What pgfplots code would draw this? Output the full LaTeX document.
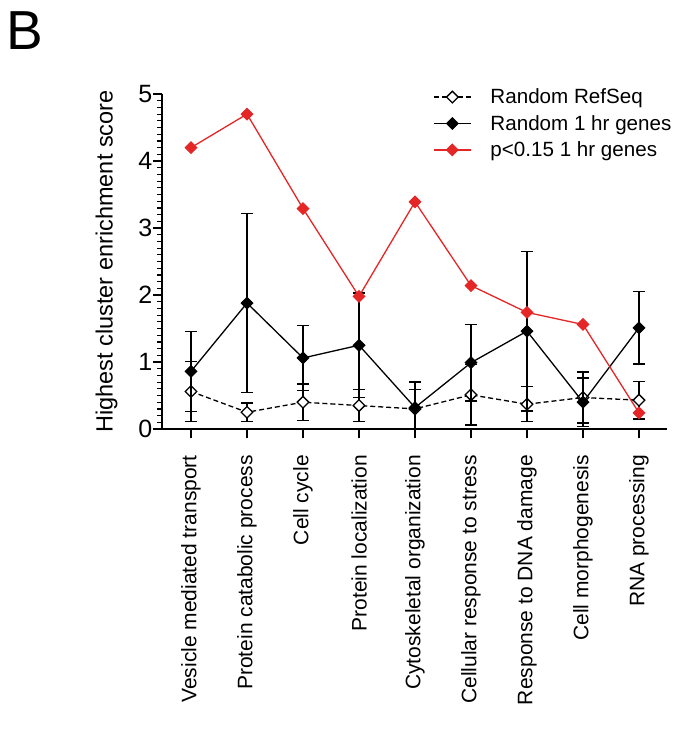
\documentclass[border=0pt]{standalone}
\usepackage{fontspec}
\setmainfont{Liberation Sans}
\usepackage{pgfplots}
\pgfplotsset{compat=1.18}
\definecolor{myred}{RGB}{228,38,38}
\begin{document}
\begin{tikzpicture}
\path[use as bounding box] (-162pt,-300pt) rectangle (516pt,429pt);
\node[anchor=base west, font=\fontsize{55}{60}\selectfont, inner sep=0pt] at (-156pt,379pt) {B};
\begin{axis}[
 at={(0pt,0pt)}, anchor=south west,
 scale only axis, width=505pt, height=335pt,
 xmin=-0.518, xmax=8.5, ymin=0, ymax=5,
 axis x line*=bottom, axis y line*=left,
 axis line style={line width=1.8pt},
 xtick={0,...,8},
 xticklabels={Vesicle mediated transport, Protein catabolic process, Cell cycle, Protein localization, Cytoskeletal organization, Cellular response to stress, Response to DNA damage, Cell morphogenesis, RNA processing},
 xticklabel style={rotate=90, anchor=east, font=\fontsize{21}{25}\selectfont, inner sep=0pt},
 xticklabel shift=17pt,
 ytick={0,1,2,3,4,5},
 minor y tick num=9,
 yticklabel style={font=\fontsize{25}{30}\selectfont, inner xsep=0.5pt},
 /pgf/number format/assume math mode=true,
 tick align=outside,
 major tick length=9pt, minor tick length=4.5pt,
 every tick/.style={line width=1.5pt, black},
 every minor tick/.style={line width=1.2pt, black},
 ylabel={Highest cluster enrichment score},
 every axis y label/.style={at={(axis description cs:0,0.5)}, xshift=-55.5pt, rotate=90, anchor=center, font=\fontsize{23.5}{28}\selectfont},
 clip mode=individual,
 legend cell align=left,
 legend style={at={(0.5366,1.022)}, anchor=north west, draw=none, fill=none, font=\fontsize{20.6}{24}\selectfont, inner sep=0pt, row sep=6pt, /tikz/every odd column/.append style={column sep=17pt}},
 legend image code/.code={\draw[mark repeat=2, mark phase=2, #1] plot coordinates {(0pt,0pt) (18.5pt,0pt) (37pt,0pt)};},
]
\addplot[black, line width=1.3pt, dash pattern=on 5pt off 3pt, mark=square*, mark size=4.1pt,
  mark options={solid, fill=white, rotate=45, line width=1.3pt},
  error bars/.cd, y dir=both, y explicit,
  error bar style={solid, line width=1.3pt},
  error mark options={rotate=90, mark size=6pt, line width=1.3pt, solid}]
 coordinates {
 (0,0.56) +- (0,0.45)
 (1,0.25) +- (0,0.14)
 (2,0.40) +- (0,0.27)
 (3,0.35) +- (0,0.24)
 (4,0.30) +- (0,0.29)
 (5,0.51) +- (0,0.45)
 (6,0.37) +- (0,0.26)
 (7,0.47) +- (0,0.38)
 (8,0.43) +- (0,0.28)
 };
\addlegendentry{Random RefSeq}
\addplot[black, line width=1.3pt, mark=square*, mark size=4.1pt,
  mark options={solid, fill=black, rotate=45, line width=1pt},
  error bars/.cd, y dir=both, y explicit,
  error bar style={solid, line width=1.3pt},
  error mark options={rotate=90, mark size=6pt, line width=1.3pt, solid}]
 coordinates {
 (0,0.86) +- (0,0.60)
 (1,1.88) +- (0,1.34)
 (2,1.06) +- (0,0.49)
 (3,1.25) +- (0,0.78)
 (4,0.32) +- (0,0.38)
 (5,0.99) +- (0,0.57)
 (6,1.46) +- (0,1.19)
 (7,0.40) +- (0,0.36)
 (8,1.51) +- (0,0.54)
 };
\addlegendentry{Random 1 hr genes}
\addplot[myred, line width=1.3pt, mark=square*, mark size=4.1pt,
  mark options={solid, fill=myred, rotate=45, line width=1pt}]
 coordinates {
 (0,4.20) (1,4.70) (2,3.29) (3,1.98) (4,3.39) (5,2.14) (6,1.74) (7,1.56) (8,0.24)
 };
\addlegendentry{p<0.15 1 hr genes}
\end{axis}
\end{tikzpicture}
\end{document}
